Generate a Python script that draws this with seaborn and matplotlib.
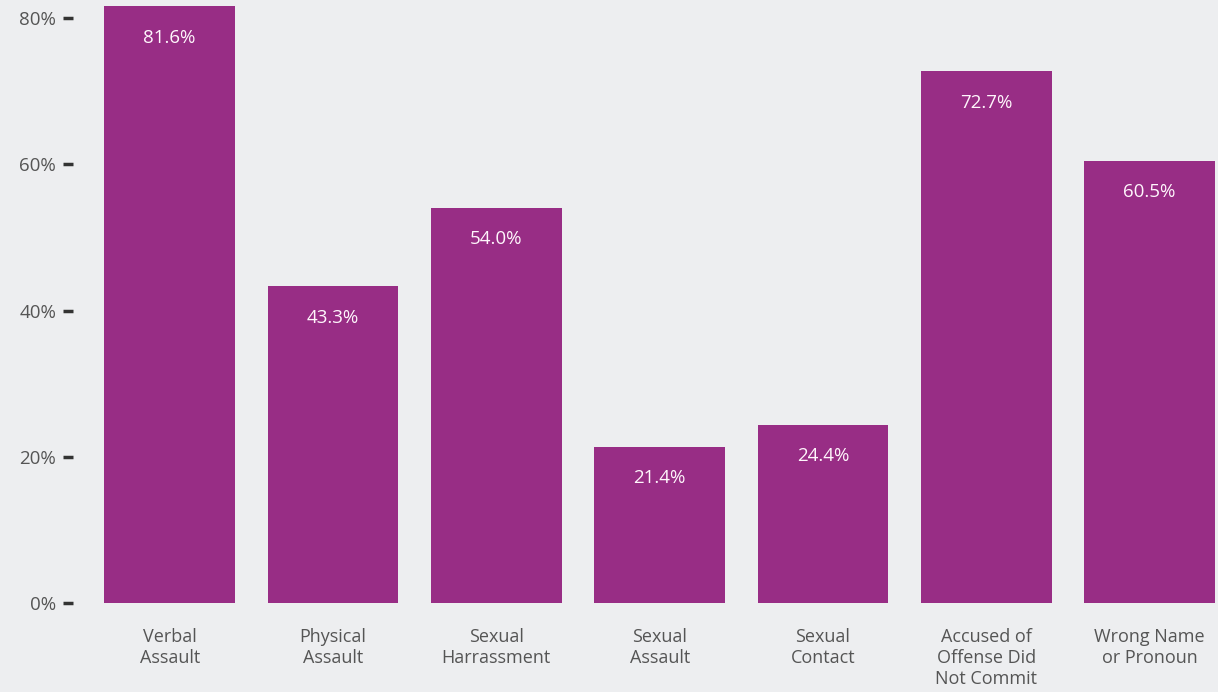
import matplotlib
matplotlib.use("Agg")
import matplotlib.pyplot as plt
import seaborn as sns
import pandas as pd

categories = ["Verbal\nAssault", "Physical\nAssault", "Sexual\nHarrassment", "Sexual\nAssault",
              "Sexual\nContact", "Accused of\nOffense Did\nNot Commit", "Wrong Name\nor Pronoun"]
values = [81.6, 43.3, 54.0, 21.4, 24.4, 72.7, 60.5]
yticks = [0, 20, 40, 60, 80]

BG = "#EDEEF0"
BAR = "#982D85"
TEXT = "#555555"

sns.set_theme(style="white")
plt.rcParams['font.family'] = ['Open Sans', 'DejaVu Sans']

df = pd.DataFrame({"cat": categories, "val": values})

fig = plt.figure(figsize=(12.18, 6.92), dpi=100, facecolor=BG)
ax = fig.add_axes([88 / 1218, (692 - 603) / 692, 1130 / 1218, 603 / 692])
ax.set_facecolor(BG)

sns.barplot(data=df, x="cat", y="val", color=BAR, saturation=1, width=0.8,
            linewidth=0, edgecolor=BAR, ax=ax)

ax.set_xlim(-0.5, -0.5 + 1130 / 163.33)
ax.set_ylim(0, 603 / 7.3125)

for i, v in enumerate(values):
    ax.annotate(f"{v:.1f}%", (i, v), xytext=(0, -16), textcoords="offset points",
                ha="center", va="top", color="#FFF6FC", fontsize=13.5)

ax.set_yticks(yticks)
ax.set_yticklabels([f"{t}%" for t in yticks])
ax.tick_params(axis="y", left=True, length=7, width=2.5, color="#333333", pad=5,
               labelsize=13.5, labelcolor=TEXT)
ax.tick_params(axis="x", bottom=False, pad=12, labelsize=13, labelcolor=TEXT)
ax.spines['left'].set_position(('outward', 11))
for s in ax.spines.values():
    s.set_visible(False)
ax.set_xlabel("")
ax.set_ylabel("")
for lbl in ax.get_xticklabels():
    lbl.set_linespacing(1.22)
    lbl.set_va("top")

fig.savefig("out.png", dpi=100, facecolor=BG)
